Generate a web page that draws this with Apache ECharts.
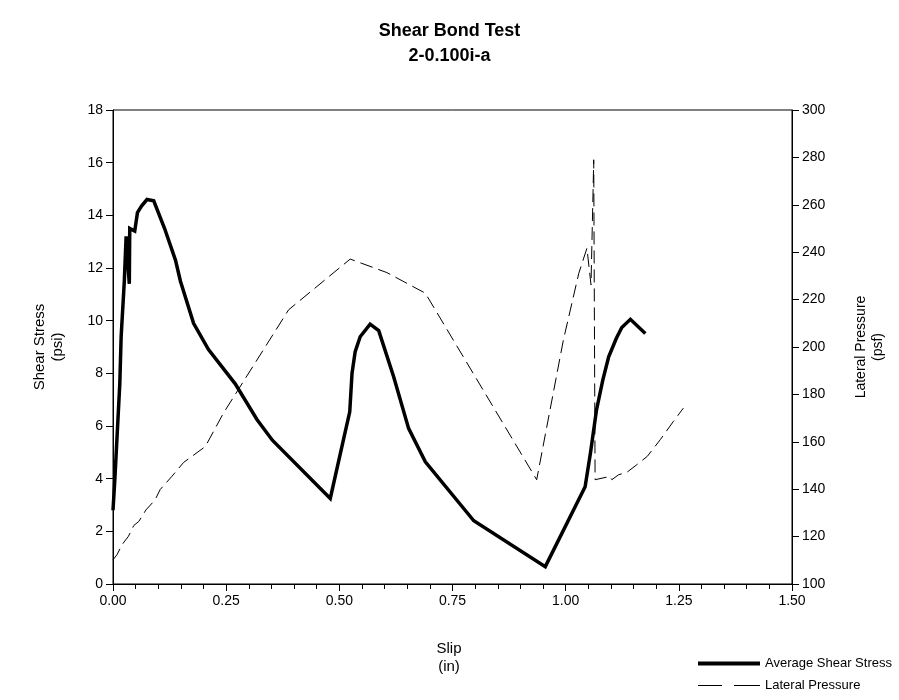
<!DOCTYPE html>
<html>
<head>
<meta charset="utf-8">
<script src="https://cdn.jsdelivr.net/npm/echarts@6/dist/echarts.min.js"></script>
<style>html,body{margin:0;padding:0;background:#fff}#c{width:899px;height:700px}</style>
</head>
<body>
<div id="c"></div>
<script>
var titleLines = ["Shear Bond Test", "2-0.100i-a"];
var seriesNames = ["Average Shear Stress", "Lateral Pressure"];
var xTicks = [0, 0.25, 0.5, 0.75, 1.0, 1.25, 1.5];
var leftTicks = [0, 2, 4, 6, 8, 10, 12, 14, 16, 18];
var rightTicks = [100, 120, 140, 160, 180, 200, 220, 240, 260, 280, 300];

var shearSlip = [0.000,0.004,0.015,0.018,0.025,0.029,0.036,0.037,0.048,0.054,0.063,0.075,0.090,0.114,0.138,0.149,0.178,0.211,0.270,0.318,0.352,0.480,0.509,0.523,0.528,0.535,0.546,0.568,0.587,0.620,0.653,0.690,0.797,0.955,1.043,1.055,1.068,1.082,1.095,1.112,1.124,1.143,1.176];
var shearStress = [2.8,3.95,7.6,9.4,11.5,13.2,11.4,13.5,13.4,14.1,14.35,14.6,14.55,13.5,12.3,11.5,9.9,8.9,7.6,6.25,5.46,3.25,5.47,6.54,8.0,8.82,9.39,9.87,9.62,7.87,5.91,4.64,2.40,0.66,3.69,5.0,6.6,7.74,8.63,9.33,9.74,10.05,9.51];

var latSlip = [0.000,0.009,0.020,0.034,0.046,0.057,0.073,0.093,0.104,0.130,0.156,0.204,0.244,0.388,0.524,0.605,0.690,0.936,0.995,1.029,1.047,1.056,1.062,1.065,1.098,1.102,1.117,1.135,1.157,1.180,1.209,1.238,1.260];
var latPressure = [110.2,112.4,116.6,120.1,124.7,126.4,131.3,135.5,139.8,145.4,151.3,158.0,172.1,215.7,237.1,231.4,222.7,144.0,203.0,231.1,241.7,226.2,279.0,144.0,145.4,144.0,146.1,147.1,150.3,153.8,160.9,168.6,174.2];

function zip(a, b) { return a.map(function (v, i) { return [v, b[i]]; }); }

var FONT = "Liberation Sans, Arial, sans-serif";
var legendText = {fontFamily: FONT, fontSize: 13, color: '#000'};
var chart = echarts.init(document.getElementById('c'), null, {renderer: 'canvas'});
chart.setOption({
  animation: false,
  backgroundColor: '#fff',
  title: {
    text: titleLines.join('\n'),
    left: 'center', top: 14,
    textStyle: {fontFamily: FONT, fontSize: 18, fontWeight: 'bold', color: '#000', lineHeight: 25}
  },
  grid: {left: 113, right: 107, top: 110, bottom: 116, show: true, borderColor: '#000', borderWidth: 1, backgroundColor: 'transparent'},
  xAxis: {
    type: 'value', min: xTicks[0], max: xTicks[xTicks.length - 1], interval: 0.25,
    axisLine: {show: true, lineStyle: {color: '#000', width: 1}},
    axisTick: {show: true, length: 7, lineStyle: {color: '#000'}},
    minorTick: {show: true, splitNumber: 5, length: 5, lineStyle: {color: '#000'}},
    splitLine: {show: false},
    axisLabel: {fontFamily: FONT, fontSize: 14, color: '#000', margin: 10, formatter: function (v) { return v.toFixed(2); }}
  },
  yAxis: [{
    type: 'value', min: leftTicks[0], max: leftTicks[leftTicks.length - 1], interval: 2, position: 'left',
    axisLine: {show: true, lineStyle: {color: '#000', width: 1}},
    axisTick: {show: true, length: 7, lineStyle: {color: '#000'}},
    splitLine: {show: false},
    axisLabel: {fontFamily: FONT, fontSize: 14, color: '#000', margin: 10}
  }, {
    type: 'value', min: rightTicks[0], max: rightTicks[rightTicks.length - 1], interval: 20, position: 'right',
    axisLine: {show: true, lineStyle: {color: '#000', width: 1}},
    axisTick: {show: true, length: 7, lineStyle: {color: '#000'}},
    splitLine: {show: false},
    axisLabel: {fontFamily: FONT, fontSize: 14, color: '#000', margin: 10}
  }],
  legend: [{
    left: 698, top: 657, itemWidth: 62, itemHeight: 12, itemGap: 5, padding: 0,
    textStyle: legendText,
    data: [{name: seriesNames[0], icon: 'path://M0,0 L62,0 L62,4 L0,4 Z', itemStyle: {color: '#000'}}]
  }, {
    left: 698, top: 679, itemWidth: 62, itemHeight: 12, itemGap: 5, padding: 0,
    textStyle: legendText,
    data: [{name: seriesNames[1], icon: 'path://M0,0 L24,0 L24,1 L0,1 Z M36,0 L62,0 L62,1 L36,1 Z', itemStyle: {color: '#000'}}]
  }],
  series: [{
    name: seriesNames[0], type: 'line', yAxisIndex: 0, data: zip(shearSlip, shearStress),
    symbol: 'none', showSymbol: false, smooth: false,
    lineStyle: {color: '#000', width: 3.5, join: 'miter', miterLimit: 3},
    itemStyle: {color: '#000'}
  }, {
    name: seriesNames[1], type: 'line', yAxisIndex: 1, data: zip(latSlip, latPressure),
    symbol: 'none', showSymbol: false, smooth: false,
    lineStyle: {color: '#000', width: 1, type: [13, 6]},
    itemStyle: {color: '#000'}
  }],
  graphic: [
    {type: 'text', x: 49, y: 347, rotation: Math.PI / 2,
     style: {text: 'Shear Stress\n(psi)', fontFamily: FONT, fontSize: 15, fill: '#000', textAlign: 'center', textVerticalAlign: 'middle', lineHeight: 18}},
    {type: 'text', x: 870, y: 347, rotation: Math.PI / 2,
     style: {text: 'Lateral Pressure\n(psf)', fontFamily: FONT, fontSize: 14, fill: '#000', textAlign: 'center', textVerticalAlign: 'middle', lineHeight: 17}},
    {type: 'text', x: 449, y: 658,
     style: {text: 'Slip\n(in)', fontFamily: FONT, fontSize: 15, fill: '#000', textAlign: 'center', textVerticalAlign: 'middle', lineHeight: 18}}
  ]
});
</script>
</body>
</html>
